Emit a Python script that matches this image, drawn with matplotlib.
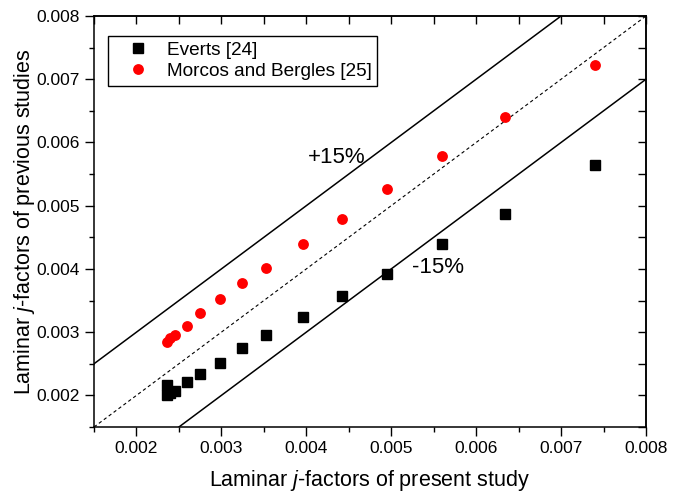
import numpy as np
import matplotlib
matplotlib.use('Agg')
import matplotlib.pyplot as plt

plt.rcParams['font.family'] = ['Liberation Sans', 'DejaVu Sans']
plt.rcParams['mathtext.fontset'] = 'custom'
plt.rcParams['mathtext.it'] = 'Liberation Sans:italic'
plt.rcParams['mathtext.rm'] = 'Liberation Sans'

# data
everts_x = [0.00236, 0.00236, 0.00240, 0.00245, 0.00260, 0.00275, 0.00298, 0.00324,
            0.00353, 0.00396, 0.00442, 0.00495, 0.00560, 0.00634, 0.00740]
everts_y = [0.00217, 0.00201, 0.00204, 0.00207, 0.00221, 0.00234, 0.00251, 0.00275,
            0.00295, 0.00324, 0.00357, 0.00392, 0.00440, 0.00487, 0.00565]

morcos_x = [0.00236, 0.00240, 0.00245, 0.00260, 0.00275, 0.00298, 0.00324,
            0.00353, 0.00396, 0.00442, 0.00495, 0.00560, 0.00634, 0.00740]
morcos_y = [0.00285, 0.00290, 0.00296, 0.00310, 0.00330, 0.00352, 0.00377,
            0.00402, 0.00440, 0.00479, 0.00526, 0.00579, 0.00640, 0.00722]

xlim = (0.0015, 0.008)
ylim = (0.0015, 0.008)
band = 0.001  # offset of the +/-15% lines
ticks = [0.002, 0.003, 0.004, 0.005, 0.006, 0.007, 0.008]

fig = plt.figure(figsize=(6.82, 4.94), dpi=100)
ax = fig.add_axes([94/682, 67/494, 552/682, 411/494])

line_x = np.array(xlim)
ax.plot(line_x, line_x, color='black', lw=0.8, ls=(0, (3, 2.5)), zorder=1)
ax.plot(line_x, line_x + band, color='black', lw=1.1, zorder=1)
ax.plot(line_x, line_x - band, color='black', lw=1.1, zorder=1)

ax.plot(everts_x, everts_y, 's', color='black', ms=7, ls='none',
        label='Everts [24]', zorder=3)
ax.plot(morcos_x, morcos_y, 'o', color='red', ms=7.8, ls='none', mew=0,
        label='Morcos and Bergles [25]', zorder=3)

ax.text(0.00436, 0.005756, '+15%', fontsize=16, ha='center', va='center')
ax.text(0.005552, 0.004016, '-15%', fontsize=16, ha='center', va='center')

ax.set_xlim(xlim)
ax.set_ylim(ylim)
ax.set_xticks(ticks)
ax.set_yticks(ticks)
ax.set_xticklabels(['%.3f' % t for t in ticks])
ax.set_yticklabels(['%.3f' % t for t in ticks])
ax.set_xticks(np.arange(0.0015, 0.0081, 0.001), minor=True)
ax.set_yticks(np.arange(0.0015, 0.0081, 0.001), minor=True)
ax.tick_params(which='major', direction='out', length=6.5, width=1, labelsize=12.5,
               top=False, right=False)
ax.tick_params(which='minor', direction='out', length=3.5, width=1,
               top=False, right=False)

# top / right ticks point inwards
secx = ax.secondary_xaxis('top')
secx.set_xticks(np.arange(0.0015, 0.0081, 0.0005))
secx.tick_params(direction='in', length=5.5, width=1, labeltop=False)
secy = ax.secondary_yaxis('right')
secy.set_yticks(np.arange(0.0015, 0.0081, 0.0005))
secy.tick_params(direction='in', length=5.5, width=1, labelright=False)

for s in ax.spines.values():
    s.set_linewidth(1.1)
for s in list(secx.spines.values()) + list(secy.spines.values()):
    s.set_linewidth(1.1)

ax.set_xlabel('Laminar $j$-factors of present study', fontsize=15.5, labelpad=9)
ax.set_ylabel('Laminar $j$-factors of previous studies', fontsize=15.5, labelpad=0)

leg = ax.legend(loc='upper left', bbox_to_anchor=(0.025, 0.952), fontsize=13.7,
                frameon=True, fancybox=False, edgecolor='black', framealpha=1,
                borderpad=0.3, handletextpad=0.2, labelspacing=0.2,
                handlelength=2.6, borderaxespad=0)
leg.get_frame().set_linewidth(1.0)

plt.savefig('out.png', dpi=100)
